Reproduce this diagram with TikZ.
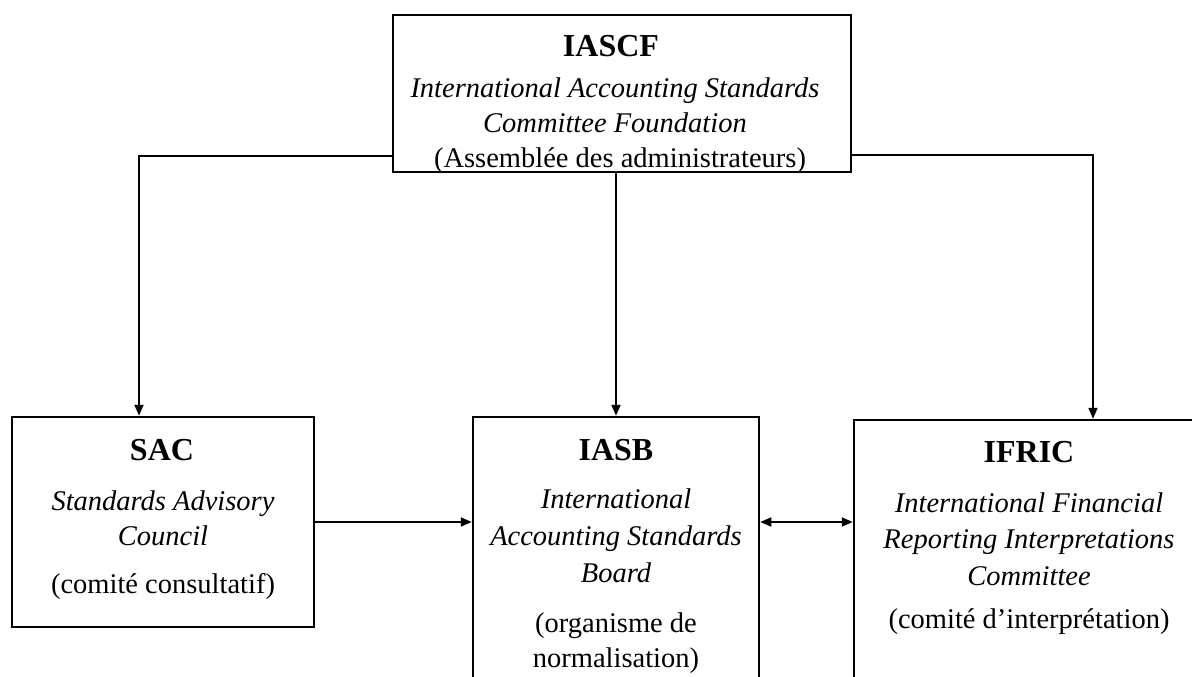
\documentclass[tikz,border=0pt]{standalone}
\usepackage{fontspec}
\setmainfont{Liberation Serif}
\usetikzlibrary{arrows.meta}
\tikzset{
  box/.style={draw, line width=2.5pt, rectangle, inner sep=0pt},
  conn/.style={line width=1.8pt, -{Triangle[length=11pt,width=9pt]}},
  both/.style={line width=1.8pt, {Triangle[length=11pt,width=9pt]}-{Triangle[length=11pt,width=9pt]}},
  ttl/.style={anchor=base, inner sep=0pt, font=\fontsize{32}{32}\selectfont\bfseries},
  itl/.style={anchor=base, inner sep=0pt, font=\fontsize{28.5}{28.5}\selectfont\itshape},
  rml/.style={anchor=base, inner sep=0pt, font=\fontsize{28.5}{28.5}\selectfont}
}
\begin{document}
\begin{tikzpicture}[x=1pt,y=-1pt]
\useasboundingbox (0,0) rectangle (1192,677);
\clip (0,0) rectangle (1192,677);
\fill[white] (0,0) rectangle (1192,677);
% boxes
\node[box, minimum width=458pt, minimum height=157pt] (top) at (622,93.5) {};
\node[box, minimum width=302pt, minimum height=210pt] (sac) at (163,522) {};
\node[box, minimum width=286pt, minimum height=283pt] (iasb) at (616,558.5) {};
\node[box, minimum width=356pt, minimum height=280pt] (ifric) at (1032,560) {};
% texts top
\node[ttl] (t1) at (611,57) {IASCF};
\node[itl] (t2) at (615,97) {International Accounting Standards};
\node[itl] (t3) at (615,132) {Committee Foundation};
\node[rml] (t4) at (620,167) {(Assemblée des administrateurs)};
% SAC
\node[ttl] (s1) at (162,460) {SAC};
\node[itl] (s2) at (163,510) {Standards Advisory};
\node[itl] (s3) at (163,545) {Council};
\node[rml] (s4) at (163,593) {(comité consultatif)};
% IASB
\node[ttl] (b1) at (616,460) {IASB};
\node[itl] (b2) at (616,508) {International};
\node[itl] (b3) at (616,545) {Accounting Standards};
\node[itl] (b4) at (616,582) {Board};
\node[rml] (b5) at (616,632) {(organisme de};
\node[rml] (b6) at (616,667) {normalisation)};
% IFRIC
\node[ttl] (f1) at (1029,462) {IFRIC};
\node[itl] (f2) at (1029,512) {International Financial};
\node[itl] (f3) at (1029,548) {Reporting Interpretations};
\node[itl] (f4) at (1029,585) {Committee};
\node[rml] (f5) at (1029,628) {(comité d’interprétation)};
% connectors
\coordinate (lc) at (139,156);
\coordinate (rc) at (1093,155);
\coordinate (mid) at (0,522);
\draw[conn] (lc -| top.west) -- (lc) -- (lc |- sac.north);
\draw[conn] (rc -| top.east) -- (rc) -- (rc |- ifric.north);
\draw[conn] (top.south -| iasb.north) -- (iasb.north);
\draw[conn] (sac.east) -- (mid -| iasb.west);
\draw[both] (mid -| iasb.east) -- (mid -| ifric.west);
\end{tikzpicture}
\end{document}
